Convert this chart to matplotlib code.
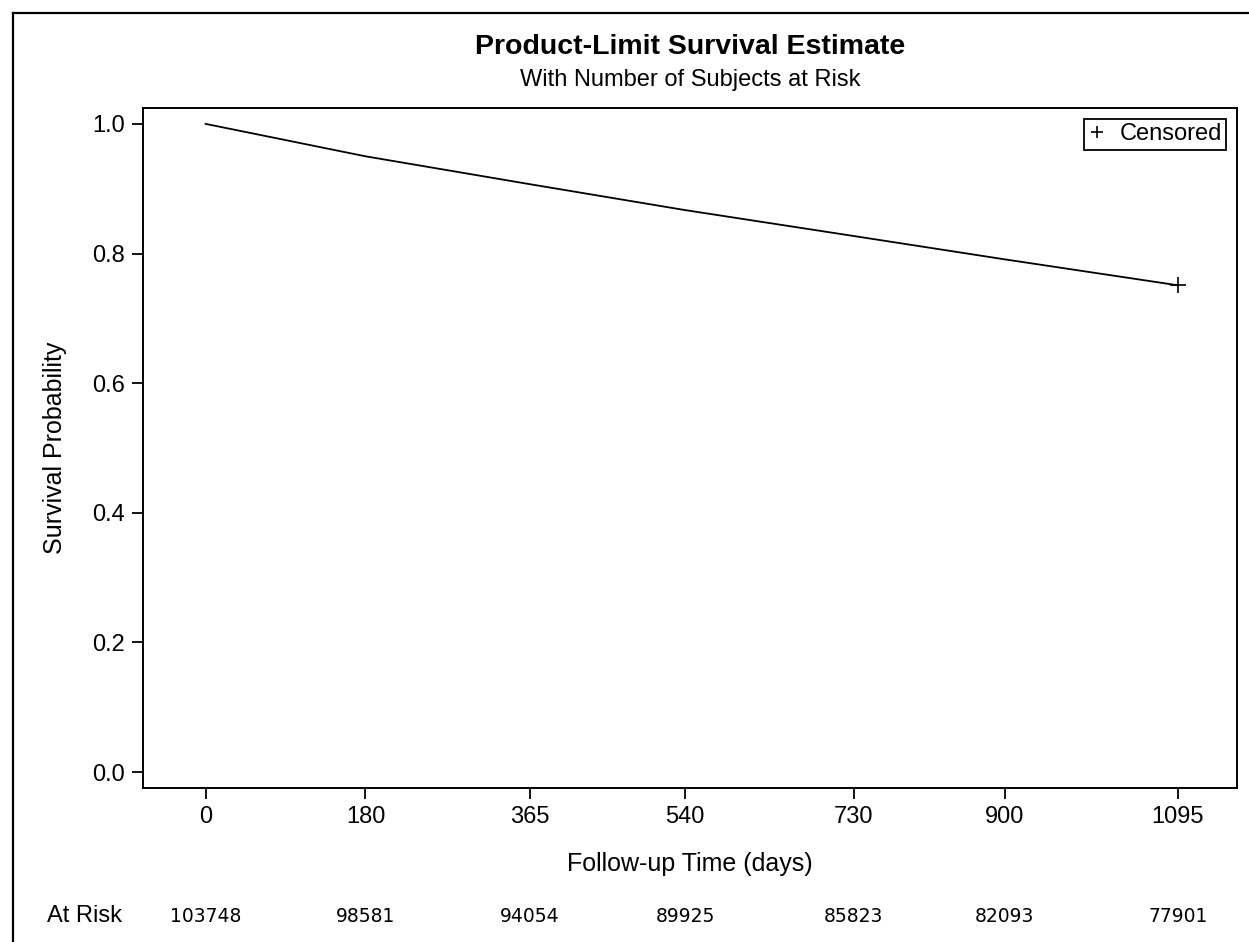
import matplotlib
matplotlib.use('Agg')
import matplotlib.pyplot as plt
from matplotlib.lines import Line2D

plt.rcParams['font.family'] = ['Liberation Sans', 'DejaVu Sans']

# Data
days = [0, 180, 365, 540, 730, 900, 1095]
at_risk = [103748, 98581, 94054, 89925, 85823, 82093, 77901]
survival = [1.000, 0.950, 0.907, 0.867, 0.827, 0.791, 0.751]
censor_day = [1095]
censor_surv = [0.751]
y_ticks = [0.0, 0.2, 0.4, 0.6, 0.8, 1.0]

fig = plt.figure(figsize=(12.49, 9.42), dpi=100)
ax_bottom = 1 - 788 / 942
ax_height = (788 - 108) / 942
ax = fig.add_axes([143 / 1249, ax_bottom, (1237 - 143) / 1249, ax_height])

# survival curve + censor mark
ax.plot(days, survival, color='black', lw=1.3, solid_joinstyle='miter')
ax.plot(censor_day, censor_surv, ls='none', marker='+', ms=11, mew=1.2,
        color='black', label='Censored')

ax.set_xlim(-70.5, 1161.5)
ax.set_ylim(-0.0245, 1.0245)
ax.set_xticks(days)
ax.set_xticklabels([str(d) for d in days])
ax.set_yticks(y_ticks)
ax.set_yticklabels(['%.1f' % v for v in y_ticks])

for s in ax.spines.values():
    s.set_linewidth(1.4)
ax.tick_params(direction='out', length=8, width=1.3, labelsize=17, pad=5, colors='black')

ax.set_xlabel('Follow-up Time (days)', fontsize=18, labelpad=17)
ax.set_ylabel('Survival Probability', fontsize=18, labelpad=18)

# titles
fig.text(690 / 1249, 1 - 47 / 942, 'Product-Limit Survival Estimate', ha='center', va='center',
         fontsize=20.5, fontweight='bold')
fig.text(690 / 1249, 1 - 80 / 942, 'With Number of Subjects at Risk', ha='center', va='center',
         fontsize=17)

leg = ax.legend(loc='upper right', frameon=True, fancybox=False, fontsize=17,
                handlelength=0.7, handletextpad=0.6, borderpad=0.2, borderaxespad=0.45,
                edgecolor='black', framealpha=1, markerscale=0.85)
leg.get_frame().set_linewidth(1.3)

# at risk row (axes x = days, y converted from figure position)
row_y = ((1 - 916 / 942) - ax_bottom) / ax_height
fig.text(47 / 1249, 1 - 916 / 942, 'At Risk', ha='left', va='center', fontsize=17)
for d, n in zip(days, at_risk):
    ax.text(d, row_y, str(n), transform=ax.get_xaxis_transform(), ha='center',
            va='center', fontsize=13.5, family=['DejaVu Sans'])

# outer frame (left and top edges visible)
fig.add_artist(Line2D([13 / 1249, 13 / 1249], [0, 1 - 13 / 942], color='black', lw=1.6,
                      transform=fig.transFigure))
fig.add_artist(Line2D([13 / 1249, 1], [1 - 13 / 942, 1 - 13 / 942], color='black', lw=1.6,
                      transform=fig.transFigure))

fig.savefig('out.png', dpi=100)
